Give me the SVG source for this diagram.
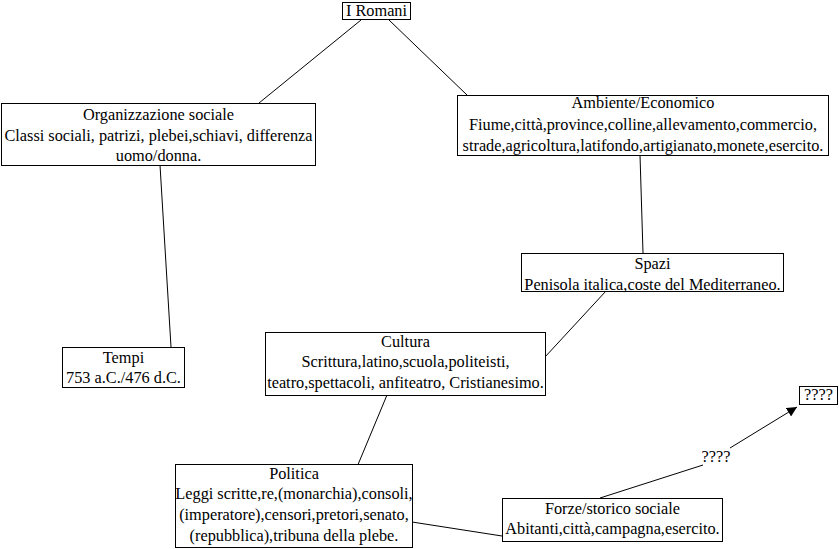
<svg xmlns="http://www.w3.org/2000/svg" width="839" height="549" viewBox="0 0 839 549">
<style>
rect.box{fill:#fff;stroke:#000;stroke-width:1}
text{font-family:"Liberation Serif","Times New Roman",serif;font-size:16.3px;fill:#000;text-anchor:middle}
.conn line{stroke:#000;stroke-width:1}
</style>
<defs>
<marker id="ah" viewBox="0 0 10 10" refX="10" refY="5" markerWidth="10" markerHeight="10" markerUnits="userSpaceOnUse" orient="auto">
<path d="M0,0 L10,5 L0,10 z" fill="#000"/>
</marker>
</defs>
<rect width="839" height="549" fill="#fff"/>
<g class="conn">
<line x1="361" y1="20" x2="259" y2="103"/>
<line x1="389" y1="20" x2="467" y2="95"/>
<line x1="160" y1="165" x2="171" y2="347"/>
<line x1="640" y1="155" x2="643" y2="253"/>
<line x1="606" y1="291" x2="545" y2="357"/>
<line x1="387" y1="395" x2="357" y2="467"/>
<line x1="412" y1="522" x2="502" y2="536"/>
<line x1="600" y1="498" x2="703" y2="465"/>
<line x1="730" y1="448" x2="797" y2="407" marker-end="url(#ah)"/>
<text x="716" y="462">????</text>
</g>
<g id="n-romani"><rect class="box" x="342.5" y="2.5" width="68" height="17"/><text x="376.5" y="16">I Romani</text></g>
<g id="n-organizzazione"><rect class="box" x="1.5" y="103.5" width="314" height="62"/>
<text x="158.5" y="120">Organizzazione sociale</text>
<text x="158.5" y="141">Classi sociali, patrizi, plebei,schiavi, differenza</text>
<text x="158.5" y="161">uomo/donna.</text></g>
<g id="n-ambiente"><rect class="box" x="457.5" y="95.5" width="371" height="60"/>
<text x="643" y="108">Ambiente/Economico</text>
<text x="643" y="130">Fiume,città,province,colline,allevamento,commercio,</text>
<text x="643" y="151">strade,agricoltura,latifondo,artigianato,monete,esercito.</text></g>
<g id="n-spazi"><rect class="box" x="521.5" y="253.5" width="262" height="38"/>
<text x="652.5" y="269">Spazi</text>
<text x="652.5" y="290">Penisola italica,coste del Mediterraneo.</text></g>
<g id="n-cultura"><rect class="box" x="265.5" y="332.5" width="280" height="63"/>
<text x="405.5" y="347">Cultura</text>
<text x="405.5" y="367">Scrittura,latino,scuola,politeisti,</text>
<text x="405.5" y="388">teatro,spettacoli, anfiteatro, Cristianesimo.</text></g>
<g id="n-tempi"><rect class="box" x="62.5" y="347.5" width="122" height="40"/>
<text x="123.5" y="363">Tempi</text>
<text x="123.5" y="383">753 a.C./476 d.C.</text></g>
<g id="n-politica"><rect class="box" x="175.5" y="464.5" width="237" height="83"/>
<text x="294" y="479">Politica</text>
<text x="294" y="499">Leggi scritte,re,(monarchia),consoli,</text>
<text x="294" y="520">(imperatore),censori,pretori,senato,</text>
<text x="294" y="541">(repubblica),tribuna della plebe.</text></g>
<g id="n-forze"><rect class="box" x="502.5" y="498.5" width="220" height="43"/>
<text x="612.5" y="514">Forze/storico sociale</text>
<text x="612.5" y="534">Abitanti,città,campagna,esercito.</text></g>
<g id="n-q"><rect class="box" x="799.5" y="386.5" width="38" height="18"/>
<text x="818.5" y="400">????</text></g>
</svg>
